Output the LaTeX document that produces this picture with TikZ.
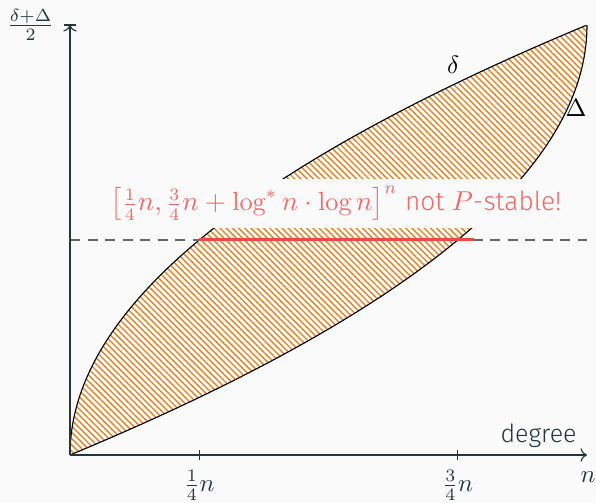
\documentclass[tikz,border=0pt]{standalone}
\usepackage{amsmath}
\usepackage{fontspec}
\setsansfont{Fira Sans}[UprightFont={* Light}]
\usepackage{tikz}
\usetikzlibrary{positioning,arrows.meta,patterns.meta}
\definecolor{bgcol}{HTML}{FAFAFA}
\definecolor{axiscol}{HTML}{23373B}
\definecolor{hatchcol}{HTML}{EB811B}
\definecolor{alertcol}{HTML}{FF6464}
\definecolor{linecol}{HTML}{F04848}

\begin{document}
\begin{tikzpicture}[x=206.8pt, y=172pt, font=\sffamily, color=axiscol,
  hatched/.style={pattern={Lines[angle=-45, distance=1.75pt, line width=0.55pt]}, pattern color=hatchcol},
  curve/.style={black, line width=0.45pt},
  ticklabel/.style={anchor=north, inner sep=0pt}]
\fill[bgcol] (-0.1354,-0.1116) rectangle (1.0174,1.0581);
\useasboundingbox (-0.1354,-0.1116) rectangle (1.0174,1.0581);
% region between the two bounds
\fill[hatched]
  plot[variable=\t, domain=0:1, samples=80] ({\t*\t},\t)
  -- plot[variable=\t, domain=0:1, samples=80] ({1-\t*\t},{1-\t}) -- cycle;
\draw[curve] plot[variable=\t, domain=0:1, samples=80] ({\t*\t},\t);
\draw[curve] plot[variable=\t, domain=1:0, samples=80] ({1-\t*\t},{1-\t});
\node[black] (dlow) at (0.741,0.907) {$\delta$};
\node[black] (dup) at (0.979,0.807) {$\Delta$};
% claim
\node[fill=bgcol, text=alertcol, inner sep=3pt, font=\fontsize{10.5}{12}\sffamily] (claim) at (0.5145,0.585)
  {$\left[\tfrac14 n, \tfrac34 n + \log^* n\cdot\log n\right]^n$ not $P$-stable!};
\coordinate (midl) at (0,0.5);
\coordinate (midr) at (1,0.5);
\coordinate (redl) at (0.25,0.5);
\coordinate (redr) at (0.781,0.5);
\draw[gray!80!black, line width=0.5pt, dash pattern=on 4pt off 3pt] (midl) -- (midr);
\draw[linecol, line width=1.2pt] (redl) -- (redr);
% axes
\coordinate (O) at (0,0);
\coordinate (xend) at (1,0);
\coordinate (ytop) at (0,1);
\draw[->, line width=0.45pt] (O) -- (xend);
\draw[->, line width=0.45pt] (O) -- (ytop);
\draw[line width=0.45pt] ([xshift=-2.4pt]ytop) -- ([xshift=2.4pt]ytop);
\foreach \u/\l in {0.25/\tfrac14 n, 0.75/\tfrac34 n}
  \draw[line width=0.45pt] (\u,0) ++(0,2pt) -- ++(0,-4pt) node[ticklabel, below=4pt] {$\l$};
\node[inner sep=0pt] (nlab) at (1.002,-0.051) {$n$};
\node[anchor=base east, inner sep=0pt] (deg) at (0.9807,0.030) {degree};
\node[inner sep=0pt] (ylab) at (-0.0764,1.0) {$\tfrac{\delta+\Delta}{2}$};
\end{tikzpicture}
\end{document}
